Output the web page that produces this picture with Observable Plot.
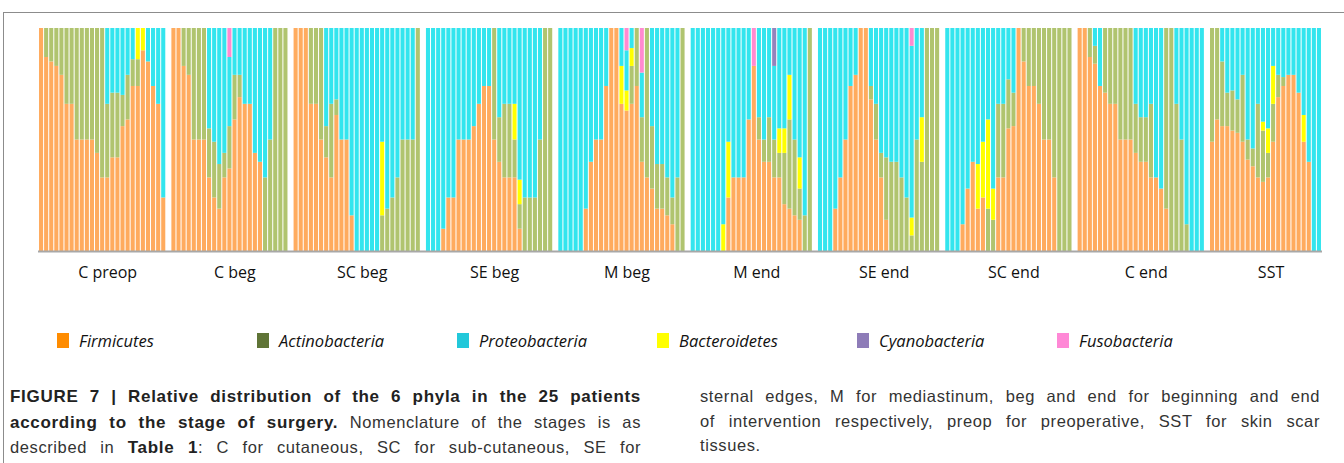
<!DOCTYPE html>
<html>
<head>
<meta charset="utf-8">
<script src="https://cdn.jsdelivr.net/npm/d3@7"></script>
<script src="https://cdn.jsdelivr.net/npm/@observablehq/plot@0.6"></script>
<style>
  html, body { margin: 0; padding: 0; background: #fff; }
  body { width: 1344px; height: 463px; position: relative; overflow: hidden; font-family: "Open Sans", "Liberation Sans", sans-serif; }
  #frame { position: absolute; left: 3px; top: 12px; width: 1400px; height: 500px; border-top: 1px solid #8c8c8c; border-left: 1px solid #8c8c8c; }
  #chart { position: absolute; left: 0; top: 0; }
  #legend { position: absolute; left: 57px; top: 329px; display: flex; }
  .item { width: 200px; display: flex; align-items: center; }
  .sw { width: 12px; height: 15px; margin-right: 10px; }
  .lab { font-style: italic; font-size: 16.5px; color: #111; }
  .cap { position: absolute; top: 384px; font-family: "Liberation Sans", "Arial", sans-serif; font-size: 16.5px; line-height: 24.5px; letter-spacing: 0.6px; color: #333; }
  .cap b { font-size: 17px; color: #222; letter-spacing: 0.7px; }
  .cap div { white-space: nowrap; text-align: justify; text-align-last: justify; }
  .cap div.last { text-align-last: left; }
  #capL { left: 10px; width: 631px; }
  #capR { left: 700px; width: 620px; }
</style>
</head>
<body>
<div id="frame"></div>
<div id="chart"></div>
<div id="legend"></div>
<div class="cap" id="capL">
  <div><b>FIGURE 7 | Relative distribution of the 6 phyla in the 25 patients</b></div>
  <div><b>according to the stage of surgery.</b> Nomenclature of the stages is as</div>
  <div>described in <b>Table 1</b>: C for cutaneous, SC for sub-cutaneous, SE for</div>
</div>
<div class="cap" id="capR">
  <div>sternal edges, M for mediastinum, beg and end for beginning and end</div>
  <div>of intervention respectively, preop for preoperative, SST for skin scar</div>
  <div class="last">tissues.</div>
</div>
<script>
// Stacking order (bottom to top) and each bar's values in that order:
// [Firmicutes, Actinobacteria, Bacteroidetes, Proteobacteria, Cyanobacteria, Fusobacteria]
const stackOrder = ["Firmicutes", "Actinobacteria", "Bacteroidetes", "Proteobacteria", "Cyanobacteria", "Fusobacteria"];
const barColors = ["#ffab5e", "#b0c46f", "#ffff00", "#33e5ee", "#9583bc", "#ff8ad0"];

const legendNames = ["Firmicutes", "Actinobacteria", "Proteobacteria", "Bacteroidetes", "Cyanobacteria", "Fusobacteria"];
const legendColors = ["#ff8c00", "#5f7436", "#22c8da", "#ffff00", "#8e7cb8", "#ff88d6"];

const stages = ["C preop", "C beg", "SC beg", "SE beg", "M beg", "M end", "SE end", "SC end", "C end", "SST"];

const cPreop = [
  [100], [87, 13], [85, 15], [83, 17], [79, 21], [66, 34], [66, 34], [50, 50], [50, 50], [50, 50],
  [50, 50], [44, 56], [33, 67], [33, 33, 0, 34], [42, 29, 0, 29], [42, 29, 0, 29], [56, 14, 0, 30],
  [59, 20, 0, 21], [74, 12, 0, 14], [74, 12, 14, 0], [90, 0, 10, 0], [85, 0, 0, 15], [74, 0, 0, 26],
  [66, 0, 0, 34], [24, 0, 0, 76]
];
const cBeg = [
  [100], [100], [83, 17], [79, 21], [50, 50], [50, 50], [50, 50], [33, 22, 0, 45], [24, 25, 0, 51],
  [19, 20, 0, 61], [33, 11, 0, 56], [37, 19, 0, 31, 0, 13], [59, 20, 0, 21], [69, 10, 0, 21],
  [66, 0, 0, 34], [66, 0, 0, 34], [44, 0, 0, 56], [40, 0, 0, 60], [0, 33, 0, 67], [0, 50, 0, 50],
  [0, 100], [0, 100], [0, 100]
];
const scBeg = [
  [100], [100], [100], [66, 34], [66, 34], [50, 50], [42, 14, 0, 44], [33, 33, 0, 34], [61, 7, 0, 32],
  [50, 0, 0, 50], [50, 0, 0, 50], [16, 0, 0, 84], [0, 0, 0, 100], [0, 0, 0, 100], [0, 0, 0, 100],
  [0, 0, 0, 100], [0, 0, 0, 100], [0, 16, 33, 51], [0, 19, 0, 81], [0, 24, 0, 76], [0, 33, 0, 67],
  [0, 50, 0, 50], [0, 50, 0, 50], [0, 50, 0, 50], [0, 100]
];
const seBeg = [
  [0, 0, 0, 100], [0, 0, 0, 100], [0, 0, 0, 100], [10, 0, 0, 90], [24, 0, 0, 76], [24, 0, 0, 76],
  [50, 0, 0, 50], [50, 0, 0, 50], [50, 0, 0, 50], [56, 0, 0, 44], [66, 0, 0, 34], [74, 0, 0, 26],
  [74, 0, 0, 26], [50, 50], [40, 20, 0, 40], [33, 33, 0, 34], [33, 33, 0, 34], [33, 17, 16, 34],
  [10, 11, 11, 68], [0, 24, 0, 76], [0, 24, 0, 76], [0, 24, 0, 76], [0, 50, 0, 50], [0, 100], [0, 100]
];
const mBeg = [
  [0, 0, 0, 100], [0, 0, 0, 100], [0, 0, 0, 100], [0, 0, 0, 100], [0, 0, 0, 100], [19, 0, 0, 81],
  [40, 0, 0, 60], [50, 0, 0, 50], [50, 0, 0, 50], [74, 0, 0, 26], [100], [100], [66, 0, 17, 17],
  [63, 0, 9, 18, 0, 10], [66, 17, 8, 9], [74, 26], [40, 20, 0, 20, 0, 20], [33, 67], [28, 28, 0, 44],
  [19, 20, 0, 61], [19, 20, 0, 61], [16, 17, 0, 67], [12, 12, 0, 76], [0, 33, 0, 67], [0, 100]
];
const mEnd = [
  [0, 0, 0, 100], [0, 0, 0, 100], [0, 0, 0, 100], [0, 0, 0, 100], [0, 0, 0, 100], [0, 0, 0, 100],
  [0, 0, 12, 88], [24, 0, 25, 51], [33, 0, 0, 67], [33, 0, 0, 67], [33, 0, 0, 67], [59, 0, 0, 41],
  [83, 0, 0, 0, 0, 17], [50, 10, 0, 40], [40, 10, 0, 50], [40, 20, 0, 40], [33, 17, 0, 33, 17, 0],
  [33, 11, 11, 45], [21, 23, 11, 45], [19, 40, 20, 21], [16, 34, 0, 50], [14, 14, 14, 58],
  [0, 16, 0, 84], [0, 100]
];
const seEnd = [
  [0, 0, 0, 100], [0, 0, 0, 100], [0, 0, 0, 100], [19, 0, 0, 81], [33, 0, 0, 67], [50, 0, 0, 50],
  [74, 0, 0, 26], [79, 0, 0, 21], [100], [100], [68, 6, 0, 26], [50, 16, 0, 34], [33, 11, 0, 56],
  [14, 28, 0, 58], [0, 40, 0, 60], [0, 40, 0, 60], [0, 33, 0, 67], [0, 24, 0, 76], [0, 7, 8, 77, 0, 8],
  [0, 50, 0, 50], [0, 40, 20, 40], [0, 100], [0, 100], [0, 100]
];
const scEnd = [
  [0, 0, 0, 100], [0, 0, 0, 100], [0, 0, 0, 100], [12, 0, 0, 88], [28, 0, 0, 72], [40, 0, 0, 60],
  [19, 0, 20, 61], [24, 0, 25, 51], [0, 19, 40, 41], [0, 14, 14, 72], [33, 33, 0, 34], [33, 33, 0, 34],
  [55, 22, 0, 23], [56, 15, 0, 29], [100], [85, 15], [74, 26], [74, 26], [66, 34], [50, 50], [50, 50],
  [33, 67], [0, 100], [0, 100], [0, 100]
];
const cEnd = [
  [100], [100], [87, 13], [84, 8, 0, 8], [74, 0, 0, 26], [71, 29], [66, 34], [66, 34], [50, 50],
  [50, 50], [50, 50], [44, 22, 0, 34], [40, 20, 0, 40], [40, 20, 0, 40], [33, 33, 0, 34],
  [33, 0, 0, 67], [28, 0, 0, 72], [19, 81], [0, 100], [0, 66, 0, 34], [0, 50, 0, 50], [0, 12, 0, 88],
  [0, 0, 0, 100], [0, 0, 0, 100], [0, 0, 0, 100]
];
const sst = [
  [49, 51], [59, 41], [56, 29, 0, 15], [56, 15, 0, 29], [54, 18, 0, 28], [53, 15, 0, 32],
  [49, 30, 0, 21], [41, 9, 0, 50], [38, 8, 0, 54], [33, 33, 0, 34], [31, 23, 4, 42], [33, 11, 11, 45],
  [49, 17, 17, 17], [69, 10, 0, 21], [74, 4, 0, 22], [79, 0, 0, 21], [79, 0, 0, 21], [71, 0, 0, 29],
  [49, 0, 12, 39], [40, 0, 0, 60], [0, 0, 0, 100], [0, 0, 0, 100]
];

const groups = [cPreop, cBeg, scBeg, seBeg, mBeg, mEnd, seEnd, scEnd, cEnd, sst];

// Build slot domain (one empty slot between stages) and long-format rows
const slots = [];
const rows = [];
const labelRows = [];
groups.forEach((bars, s) => {
  if (s > 0) slots.push(`gap-${s}`);
  bars.forEach((bar, i) => {
    const key = `${s}-${i}`;
    slots.push(key);
    stackOrder.forEach((ph, k) => {
      const v = bar[k] || 0;
      if (v > 0) rows.push({slot: key, stage: stages[s], phylum: ph, value: v});
    });
  });
  const n = bars.length;
  labelRows.push({stage: stages[s], slot: `${s}-${Math.floor(n / 2)}`, even: n % 2 === 0});
});

const chart = Plot.plot({
  width: 1344,
  height: 300,
  marginLeft: 38,
  marginRight: 22,
  marginTop: 28,
  marginBottom: 49,
  style: {fontFamily: "'Open Sans', 'Liberation Sans', sans-serif", fontSize: "16px", background: "transparent"},
  x: {domain: slots, padding: 0.2, round: false, axis: null},
  y: {domain: [0, 1], axis: null},
  color: {domain: stackOrder, range: barColors},
  marks: [
    Plot.barY(rows, Plot.stackY({x: "slot", y: "value", fill: "phylum", order: stackOrder, offset: "normalize"})),
    Plot.ruleY([0], {stroke: "#a8a8a8", strokeWidth: 2}),
    Plot.text(labelRows.filter(d => !d.even), {x: "slot", text: "stage", frameAnchor: "bottom", dy: 26, dx: 5, fill: "#111"}),
    Plot.text(labelRows.filter(d => d.even), {x: "slot", text: "stage", frameAnchor: "bottom", dy: 26, dx: 2.5, fill: "#111"})
  ]
});
document.getElementById("chart").appendChild(chart);

const legend = document.getElementById("legend");
legendNames.forEach((name, i) => {
  const item = document.createElement("div");
  item.className = "item";
  const sw = document.createElement("div");
  sw.className = "sw";
  sw.style.background = legendColors[i];
  const lab = document.createElement("span");
  lab.className = "lab";
  lab.textContent = name;
  item.appendChild(sw);
  item.appendChild(lab);
  legend.appendChild(item);
});
</script>
</body>
</html>
